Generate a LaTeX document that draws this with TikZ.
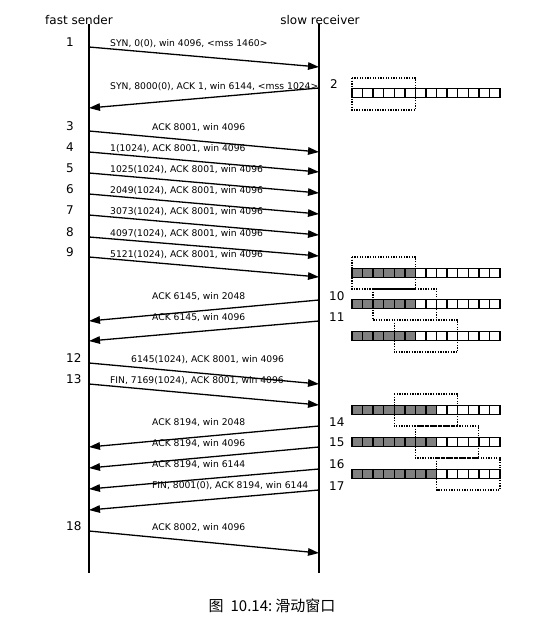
\documentclass[tikz,border=0pt]{standalone}
\usepackage{fontspec}
\setmainfont{DejaVu Sans}
\newfontfamily\cjk{Noto Sans CJK SC}
\usetikzlibrary{arrows.meta}
\definecolor{cellgray}{RGB}{128,128,128}
\newcommand\bufrow[2]{%
  \fill[cellgray] (352,#1-4.5) rectangle ({352+#2*10.57},#1+4.5);
  \foreach \i in {0,...,13}{\draw[cell] ({352+\i*10.57},#1-4.5) rectangle ++(10.57,9);}
}
\begin{document}
\begin{tikzpicture}[x=1pt,y=-1pt,
  life/.style={line width=1.8pt},
  msg/.style={line width=1.3pt,-{Triangle[length=11pt,width=7.5pt]}},
  lbl/.style={anchor=west,inner sep=0pt,font=\fontsize{9.2}{10}\selectfont},
  num/.style={anchor=west,inner sep=0pt,font=\fontsize{12}{14}\selectfont},
  ttl/.style={inner sep=0pt,font=\fontsize{12}{14}\selectfont},
  cell/.style={line width=1.5pt},
  win/.style={line width=1.3pt,dash pattern=on 1.3pt off 1.3pt}]
\useasboundingbox (0,0) rectangle (542,629);
% titles
\node[ttl] (ts) at (79,20) {fast sender};
\node[ttl] (tr) at (320,20) {slow receiver};
% lifelines
\coordinate (stop) at (89,24); \coordinate (sbot) at (89,573);
\coordinate (rtop) at (319,24); \coordinate (rbot) at (319,573);
\draw[life] (stop) -- (sbot);
\draw[life] (rtop) -- (rbot);
% message end points
\coordinate (s1) at (89,47);  \coordinate (r1) at (319,67);
\coordinate (r2) at (319,88); \coordinate (s2) at (89,108);
\coordinate (s3) at (89,131); \coordinate (r3) at (319,152);
\coordinate (s4) at (89,152); \coordinate (r4) at (319,172);
\coordinate (s5) at (89,173); \coordinate (r5) at (319,193);
\coordinate (s6) at (89,194); \coordinate (r6) at (319,214);
\coordinate (s7) at (89,215); \coordinate (r7) at (319,235);
\coordinate (s8) at (89,237); \coordinate (r8) at (319,256);
\coordinate (s9) at (89,257); \coordinate (r9) at (319,277);
\coordinate (r10) at (319,300); \coordinate (s10) at (89,321);
\coordinate (r11) at (319,321); \coordinate (s11) at (89,341);
\coordinate (s12) at (89,363); \coordinate (r12) at (319,384);
\coordinate (s13) at (89,384); \coordinate (r13) at (319,405);
\coordinate (r14) at (319,426); \coordinate (s14) at (89,447);
\coordinate (r15) at (319,447); \coordinate (s15) at (89,468);
\coordinate (r16) at (319,469); \coordinate (s16) at (89,489);
\coordinate (r17) at (319,490); \coordinate (s17) at (89,510);
\coordinate (s18) at (89,531); \coordinate (r18) at (319,553);
% messages
\foreach \k in {1,3,4,5,6,7,8,9,12,13,18}{\draw[msg] (s\k) -- (r\k);}
\foreach \k in {2,10,11,14,15,16,17}{\draw[msg] (r\k) -- (s\k);}
% message labels
\node[lbl] (l1) at (110,44) {SYN, 0(0), win 4096, <mss 1460>};
\node[lbl] (l2) at (110,87) {SYN, 8000(0), ACK 1, win 6144, <mss 1024>};
\node[lbl] (l3) at (152,128) {ACK 8001, win 4096};
\node[lbl] (l4) at (110,149) {1(1024), ACK 8001, win 4096};
\node[lbl] (l5) at (110,170) {1025(1024), ACK 8001, win 4096};
\node[lbl] (l6) at (110,191) {2049(1024), ACK 8001, win 4096};
\node[lbl] (l7) at (110,212) {3073(1024), ACK 8001, win 4096};
\node[lbl] (l8) at (110,234) {4097(1024), ACK 8001, win 4096};
\node[lbl] (l9) at (110,255) {5121(1024), ACK 8001, win 4096};
\node[lbl] (l10) at (152,297) {ACK 6145, win 2048};
\node[lbl] (l11) at (152,318) {ACK 6145, win 4096};
\node[lbl] (l12) at (131,360) {6145(1024), ACK 8001, win 4096};
\node[lbl] (l13) at (110,381) {FIN, 7169(1024), ACK 8001, win 4096};
\node[lbl] (l14) at (152,423) {ACK 8194, win 2048};
\node[lbl] (l15) at (152,444) {ACK 8194, win 4096};
\node[lbl] (l16) at (152,465) {ACK 8194, win 6144};
\node[lbl] (l17) at (152,486) {FIN, 8001(0), ACK 8194, win 6144};
\node[lbl] (l18) at (152,528) {ACK 8002, win 4096};
% step numbers (sender)
\node[num] (n1) at (66,42) {1};
\node[num] (n3) at (66,126) {3};
\node[num] (n4) at (66,147) {4};
\node[num] (n5) at (66,168) {5};
\node[num] (n6) at (66,189) {6};
\node[num] (n7) at (66,210) {7};
\node[num] (n8) at (66,232) {8};
\node[num] (n9) at (66,252) {9};
\node[num] (n12) at (66,358) {12};
\node[num] (n13) at (66,379) {13};
\node[num] (n18) at (66,526) {18};
% step numbers (receiver)
\node[num] (n2) at (330,84) {2};
\node[num] (n10) at (329,296) {10};
\node[num] (n11) at (329,317) {11};
\node[num] (n14) at (329,422) {14};
\node[num] (n15) at (329,442) {15};
\node[num] (n16) at (329,464) {16};
\node[num] (n17) at (329,486) {17};
% receive buffers
\bufrow{93}{0}
\bufrow{273}{6}
\bufrow{304}{6}
\bufrow{336}{6}
\bufrow{410}{8}
\bufrow{442}{8}
\bufrow{474}{8}
% windows
\draw[win] (352,78) rectangle ({352+6*10.57},110);
\draw[win] (352,257) rectangle ({352+6*10.57},289);
\draw[win] ({352+2*10.57},289) rectangle ({352+8*10.57},320);
\draw[win] ({352+4*10.57},320) rectangle ({352+10*10.57},352);
\draw[win] ({352+4*10.57},394) rectangle ({352+10*10.57},426);
\draw[win] ({352+6*10.57},426) rectangle ({352+12*10.57},458);
\draw[win] ({352+8*10.57},458) rectangle ({352+14*10.57},490);
% caption
\node[font=\cjk\fontsize{15}{17}\selectfont] (cap) at (272,606) {图\hspace{7pt}10.14:\hspace{3pt}滑动窗口};
\end{tikzpicture}
\end{document}
